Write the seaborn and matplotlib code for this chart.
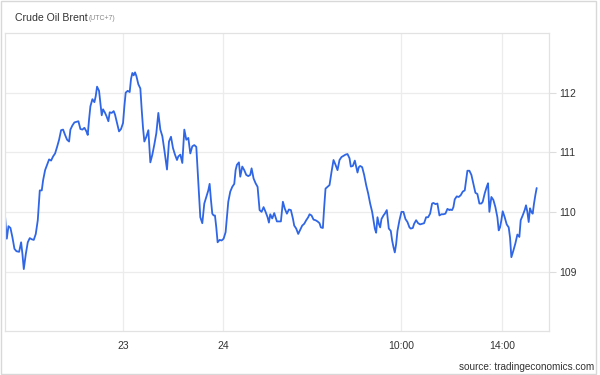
import matplotlib
matplotlib.use("Agg")
import matplotlib.pyplot as plt
import seaborn as sns
import pandas as pd
from matplotlib.patches import Rectangle

# time index (trading-time units) and Brent price
bar = [14, 19, 24, 30, 36, 42, 48, 56, 62, 66, 70, 76, 82, 88, 94, 100, 106, 112, 118, 124,
       128, 134, 140, 146, 152, 158, 164, 170, 176, 182, 188, 194, 200, 206, 210, 216, 222, 228, 234, 240,
       246, 252, 258, 262, 266,
       270, 276, 282, 286, 290, 296, 300, 304, 308, 314, 318, 324, 328, 334, 340, 344, 350, 356, 362, 368,
       372, 376, 382, 388, 392, 396, 400, 404, 408, 414, 420, 424, 428, 432, 438, 444, 450, 456, 462, 468,
       474, 480, 486, 492, 496, 500, 506, 512, 518, 524, 530, 534,
       540, 546, 552, 558, 564, 570, 576, 582, 588, 592, 596, 600, 606, 612, 618, 624, 628, 632, 636, 640,
       644, 648, 652, 658, 664, 670, 676, 680, 684, 690, 696, 702, 706, 710, 716, 720, 726, 732, 738, 744,
       750, 754, 760, 766, 772, 778, 784, 790, 796, 802, 806,
       810, 816, 822, 826, 830, 836, 842, 848, 854, 860, 866, 872, 878, 882, 888, 894, 900, 906, 912, 918,
       924, 928, 934, 940, 946, 952, 958, 962, 968, 972, 976, 982, 988, 994, 1000, 1006, 1012, 1018, 1024, 1030,
       1036, 1042, 1048, 1052, 1058, 1064, 1068, 1072, 1076,
       1080, 1086, 1092, 1098, 1104, 1110, 1116, 1120, 1124, 1128, 1132, 1136, 1140, 1144, 1150, 1154, 1160, 1166, 1172, 1176,
       1180, 1184, 1188, 1192, 1198, 1204, 1210, 1216, 1222, 1228, 1232, 1238, 1242, 1248, 1254, 1260, 1266, 1272, 1278, 1284,
       1290, 1296, 1300, 1306, 1312, 1318, 1324, 1330, 1336, 1342, 1348,
       1350, 1356, 1360, 1364, 1370, 1376, 1382, 1388, 1394, 1398, 1402, 1408, 1414, 1418, 1422, 1426, 1432, 1438, 1444, 1448,
       1454, 1460, 1464, 1468, 1474, 1480, 1486, 1492, 1496, 1500, 1504, 1508, 1514, 1520, 1526, 1530, 1534, 1540, 1546, 1552,
       1558, 1562, 1568, 1574, 1578, 1582, 1586, 1590, 1594, 1598, 1602, 1606, 1610]

price = [109.91, 109.55, 109.76, 109.73, 109.57, 109.38, 109.34, 109.33, 109.49, 109.29, 109.04, 109.29, 109.49, 109.56, 109.54, 109.53, 109.63, 109.86, 110.36, 110.36,
         110.53, 110.70, 110.79, 110.88, 110.86, 110.93, 110.98, 111.09, 111.21, 111.37, 111.38, 111.29, 111.21, 111.18, 111.38, 111.45, 111.50, 111.51, 111.52, 111.39,
         111.38, 111.41, 111.35, 111.29, 111.55,
         111.77, 111.89, 111.84, 111.94, 112.10, 112.03, 111.83, 111.62, 111.72, 111.66, 111.61, 111.52, 111.67, 111.66, 111.69, 111.63, 111.49, 111.35, 111.39, 111.49,
         111.77, 112.00, 112.03, 112.01, 112.23, 112.33, 112.29, 112.34, 112.28, 112.14, 112.07, 111.72, 111.41, 111.18, 111.26, 111.37, 110.83, 110.96, 111.13, 111.32,
         111.66, 111.38, 111.27, 111.04, 110.87, 110.71, 111.18, 111.26, 111.07, 110.96, 110.87, 110.93,
         110.96, 110.82, 111.38, 111.21, 111.24, 110.98, 111.10, 111.12, 111.09, 110.70, 110.31, 109.91, 109.81, 110.14, 110.25, 110.36, 110.47, 110.20, 109.97, 109.94,
         109.94, 109.74, 109.49, 109.53, 109.52, 109.55, 109.66, 109.91, 110.17, 110.34, 110.42, 110.47, 110.70, 110.79, 110.83, 110.59, 110.76, 110.70, 110.62, 110.60,
         110.62, 110.73, 110.56, 110.48, 110.42, 110.03, 110.00, 110.08, 110.00, 109.91, 109.82,
         109.96, 109.89, 109.98, 109.91, 109.84, 109.84, 109.84, 110.17, 110.05, 109.97, 110.04, 110.03, 109.89, 109.77, 109.72, 109.63, 109.70, 109.77, 109.80, 109.86,
         109.91, 109.96, 109.94, 109.87, 109.86, 109.84, 109.81, 109.74, 109.73, 110.08, 110.39, 110.42, 110.45, 110.67, 110.87, 110.79, 110.70, 110.87, 110.92, 110.94,
         110.96, 110.97, 110.90, 110.76, 110.77, 110.86, 110.76, 110.66, 110.75,
         110.77, 110.75, 110.62, 110.45, 110.31, 110.14, 110.00, 109.86, 109.72, 109.65, 109.91, 109.80, 109.74, 109.88, 109.94, 109.97, 110.03, 109.72, 109.68, 109.52,
         109.41, 109.32, 109.46, 109.68, 109.86, 110.00, 110.00, 109.88, 109.83, 109.74, 109.72, 109.73, 109.80, 109.86, 109.81, 109.79, 109.80, 109.81, 109.91, 109.91,
         109.97, 110.14, 110.15, 110.13, 110.14, 109.94, 109.96, 109.96, 109.97, 110.05, 110.03,
         110.04, 110.03, 110.08, 110.21, 110.26, 110.25, 110.28, 110.34, 110.36, 110.53, 110.69, 110.69, 110.62, 110.52, 110.42, 110.32, 110.30, 110.14, 110.14, 110.17,
         110.31, 110.42, 110.48, 110.00, 110.25, 110.20, 110.08, 109.91, 109.69, 109.74, 109.86, 110.01, 109.91, 109.79, 109.74, 109.57, 109.24, 109.35, 109.47, 109.62,
         109.58, 109.86, 109.94, 110.03, 110.11, 110.00, 109.83, 110.06, 110.00, 109.97, 110.14, 110.28, 110.40]

x_tick_pos = [367.5, 669, 1203, 1506]
x_tick_labels = ["23", "24", "10:00", "14:00"]
y_ticks = [109, 110, 111, 112]

df = pd.DataFrame({"bar": bar, "price": price})

sns.set_style("white")
plt.rcParams["font.family"] = ["Liberation Sans", "DejaVu Sans"]

fig = plt.figure(figsize=(6, 3.75), dpi=100)
ax = fig.add_axes([0.008, 0.117, 0.907, 0.795])

sns.lineplot(data=df, x="bar", y="price", ax=ax, color="#2f66e6", linewidth=1.3)

ax.set_xlim(13, 1647)
ax.set_ylim(108.0, 113.0)
ax.set_xticks(x_tick_pos)
ax.set_xticklabels(x_tick_labels)
ax.set_yticks(y_ticks)
ax.yaxis.tick_right()
ax.set_xlabel("")
ax.set_ylabel("")
ax.grid(True, color="#ececec", linewidth=0.9)
ax.set_axisbelow(True)
ax.tick_params(axis="x", length=0, labelsize=7.5, labelcolor="#333333", pad=7)
ax.tick_params(axis="y", length=5, color="#dddddd", labelsize=7.5, labelcolor="#333333", pad=2)
for s in ["left", "right", "top", "bottom"]:
    ax.spines[s].set_color("#e2e2e2")
    ax.spines[s].set_linewidth(0.9)

fig.text(0.025, 0.952, "Crude Oil Brent", fontsize=7.6, color="#333333", va="center", ha="left")
fig.text(0.148, 0.950, "(UTC+7)", fontsize=5.0, color="#888888", va="center", ha="left")
fig.text(0.99, 0.022, "source: tradingeconomics.com", fontsize=7.2, color="#333333", va="center", ha="right")

fig.patches.append(Rectangle((0.001, 0.003), 0.993, 0.994, transform=fig.transFigure,
                             fill=False, edgecolor="#d8d8d8", linewidth=1.0))

fig.savefig("out.png", dpi=100)
